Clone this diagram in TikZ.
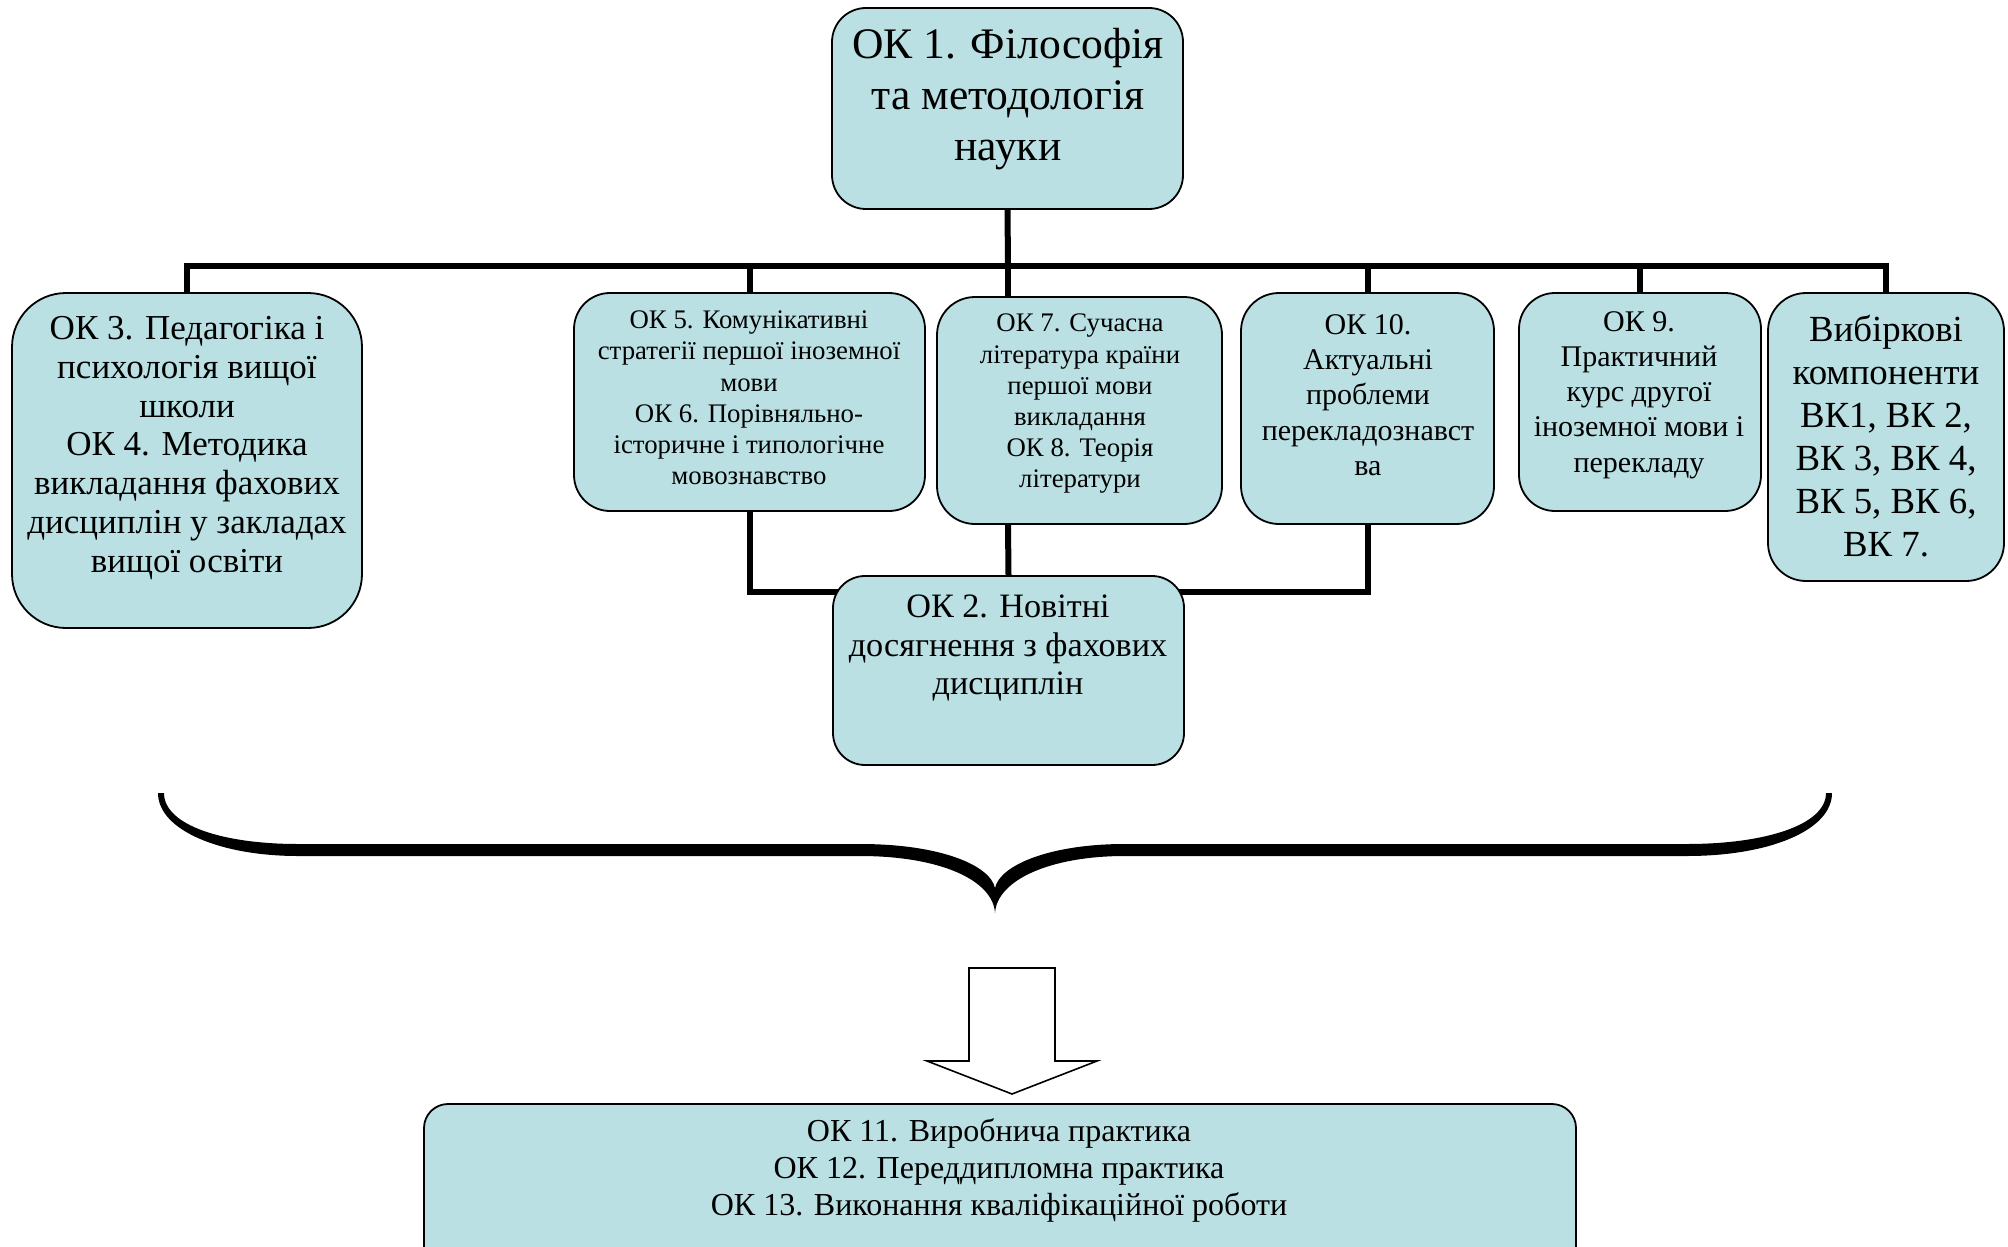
\documentclass[tikz,border=0pt]{standalone}
\usepackage{fontspec}
\setmainfont{Liberation Serif}
\usetikzlibrary{fit,backgrounds}
\definecolor{boxfill}{RGB}{186,224,227}
\tikzset{
  box/.style={draw=black, line width=0.9pt, fill=boxfill, inner sep=0pt},
  conn/.style={line width=3pt, black},
  txt/.style={align=center, inner sep=0pt},
  fA/.style={font=\fontsize{21.8}{25.5}\selectfont},
  fB/.style={font=\fontsize{17.5}{19.4}\selectfont},
  fC/.style={font=\fontsize{13.4}{15.6}\selectfont},
  fD/.style={font=\fontsize{15}{17.6}\selectfont},
  fE/.style={font=\fontsize{18.4}{21.5}\selectfont},
  fF/.style={font=\fontsize{16}{18.5}\selectfont},
  fG/.style={font=\fontsize{17.1}{19.2}\selectfont},
}
\begin{document}
\begin{tikzpicture}[x=0.5pt,y=-0.5pt]
\useasboundingbox (0,0) rectangle (2008,1247);
\clip (0,0) rectangle (2008,1247);
% boxes
\node[box, rounded corners=17pt, fit={(832,8) (1183,209)}] (ok1) {};
\node[box, rounded corners=27pt, fit={(12,293) (362,628)}] (ok3) {};
\node[box, rounded corners=18pt, fit={(574,293) (925,511)}] (ok5) {};
\node[box, rounded corners=19pt, fit={(937,297) (1222,524)}] (ok7) {};
\node[box, rounded corners=19pt, fit={(1241,293) (1494,524)}] (ok10) {};
\node[box, rounded corners=18pt, fit={(1519,293) (1761,511)}] (ok9) {};
\node[box, rounded corners=19pt, fit={(1768,293) (2004,581)}] (vk) {};
\node[box, rounded corners=16pt, fit={(833,576) (1184,765)}] (ok2) {};
\node[box, rounded corners=12pt, fit={(424,1104) (1576,1320)}] (ok11) {};
% texts
\node[txt, fA] (ok1t) at (1008,99) {ОК 1. Філософія\\та методологія\\науки};
\node[txt, fB] (ok3t) at (187,448) {ОК 3. Педагогіка і\\психологія вищої\\школи\\ОК 4. Методика\\викладання фахових\\дисциплін у закладах\\вищої освіти};
\node[txt, fC] (ok5t) at (749,398) {ОК 5. Комунікативні\\стратегії першої іноземної\\мови\\ОК 6. Порівняльно-\\історичне і типологічне\\мовознавство};
\node[txt, fC] (ok7t) at (1080,404) {ОК 7. Сучасна\\література країни\\першої мови\\викладання\\ОК 8. Теорія\\літератури};
\node[txt, fD] (ok10t) at (1368,395) {ОК 10.\\Актуальні\\проблеми\\перекладознавст\\ва};
\node[txt, fD] (ok9t) at (1639,395) {ОК 9.\\Практичний\\курс другої\\іноземної мови і\\перекладу};
\node[txt, fE] (vkt) at (1886,436) {Вибіркові\\компоненти\\ВК1, ВК 2,\\ВК 3, ВК 4,\\ВК 5, ВК 6,\\ВК 7.};
\node[txt, fG] (ok2t) at (1008,648) {ОК 2. Новітні\\досягнення з фахових\\дисциплін};
\node[txt, fF] (ok11t) at (999,1170) {ОК 11. Виробнича практика\\ОК 12. Переддипломна практика\\ОК 13. Виконання кваліфікаційної роботи};
% connectors
\begin{scope}[on background layer]
  \coordinate (bus) at (1008,266);
  \coordinate (low) at (1008,592);
  \draw[conn] (ok1.south) -- (bus);
  \draw[conn] (ok3.north) |- (bus) -| (vk.north);
  \draw[conn] (ok5.north) -- (ok5.north |- bus);
  \draw[conn] (bus) -- (bus |- ok7.north);
  \draw[conn] (ok10.north) -- (ok10.north |- bus);
  \draw[conn] (ok9.north) -- (ok9.north |- bus);
  \draw[conn] (ok5.south) |- (low) -| (ok10.south);
  \draw[conn] (low |- ok7.south) -- (ok2.north);
\end{scope}
% brace
\fill[black] (158,793) .. controls (158,830) and (220,856) .. (298,856)
  -- (860,856) .. controls (940,856) and (993,880) .. (995,913)
  .. controls (997,880) and (1050,856) .. (1125,856)
  -- (1687,856) .. controls (1770,856) and (1832,830) .. (1832,793)
  -- (1826,793) .. controls (1826,825) and (1765,844) .. (1687,844)
  -- (1125,844) .. controls (1050,844) and (1000,865) .. (995,888)
  .. controls (990,865) and (940,844) .. (860,844)
  -- (298,844) .. controls (222,844) and (164,825) .. (164,793) -- cycle;
% block arrow
\draw[line width=0.8pt, fill=white] (969,968) -- (1055,968) -- (1055,1061) -- (1097,1061)
  -- (1012,1094) -- (927,1061) -- (969,1061) -- cycle;
\end{tikzpicture}
\end{document}
